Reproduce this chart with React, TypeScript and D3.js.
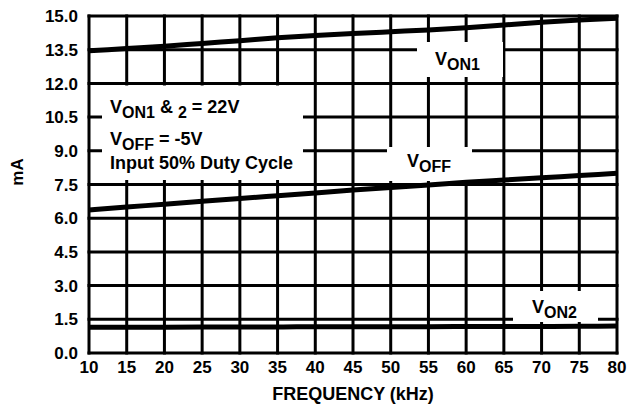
import React, { useRef, useEffect } from 'react';
import * as d3 from 'd3';

// frequency points (kHz) and supply currents (mA)
const freqs = [10, 15, 20, 25, 30, 35, 40, 45, 50, 55, 60, 65, 70, 75, 80];
const von1 = [13.45, 13.55, 13.65, 13.78, 13.9, 14.03, 14.13, 14.22, 14.3, 14.38, 14.48, 14.6, 14.72, 14.82, 14.9];
const voff = [6.37, 6.5, 6.62, 6.75, 6.88, 7.0, 7.12, 7.25, 7.37, 7.48, 7.6, 7.7, 7.8, 7.9, 8.0];
const von2 = [1.15, 1.15, 1.15, 1.16, 1.16, 1.16, 1.17, 1.17, 1.17, 1.17, 1.18, 1.18, 1.18, 1.19, 1.2];

const xTicks = [10, 15, 20, 25, 30, 35, 40, 45, 50, 55, 60, 65, 70, 75, 80];
const yTicks = [0, 1.5, 3, 4.5, 6, 7.5, 9, 10.5, 12, 13.5, 15];

const FONT = '"Liberation Sans", Arial, Helvetica, sans-serif';

const App: React.FC = () => {
  const svgRef = useRef<SVGSVGElement>(null);

  useEffect(() => {
    if (!svgRef.current) return;
    const svg = d3.select(svgRef.current);
    svg.selectAll('*').remove();

    const width = 629;
    const height = 408;
    const margin = { top: 16, right: 12, bottom: 55, left: 89 };

    const x = d3.scaleLinear().domain([10, 80]).range([margin.left, width - margin.right]);
    const y = d3.scaleLinear().domain([0, 15]).range([height - margin.bottom, margin.top]);

    svg.append('rect').attr('width', width).attr('height', height).attr('fill', '#fff');

    // grid (frame included)
    const gw = 3;
    const grid = svg.append('g').attr('stroke', '#000').attr('stroke-width', gw);
    grid.selectAll('.vg')
      .data(xTicks)
      .enter()
      .append('line')
      .attr('x1', d => x(d)).attr('x2', d => x(d))
      .attr('y1', y(0) + gw / 2).attr('y2', y(15) - gw / 2);
    grid.selectAll('.hg')
      .data(yTicks)
      .enter()
      .append('line')
      .attr('y1', d => y(d)).attr('y2', d => y(d))
      .attr('x1', x(10) - gw / 2).attr('x2', x(80) + gw / 2);

    // white boxes behind the annotations
    const boxes = [
      { x0: 102, y0: 85.5, x1: 303, y1: 180 },
      { x0: 417, y0: 42, x1: 503, y1: 77 },
      { x0: 387, y0: 147, x1: 472, y1: 181 },
      { x0: 513, y0: 291, x1: 598, y1: 322 },
    ];
    svg.selectAll('.box')
      .data(boxes)
      .enter()
      .append('rect')
      .attr('x', d => d.x0).attr('y', d => d.y0)
      .attr('width', d => d.x1 - d.x0).attr('height', d => d.y1 - d.y0)
      .attr('fill', '#fff');

    // curves
    const line = d3.line<number>()
      .x((_, i) => x(freqs[i]))
      .y(d => y(d))
      .curve(d3.curveMonotoneX);
    [von1, voff, von2].forEach(series => {
      svg.append('path')
        .attr('d', line(series) || '')
        .attr('fill', 'none')
        .attr('stroke', '#000')
        .attr('stroke-width', 5);
    });

    const txt = svg.append('g')
      .attr('font-family', FONT)
      .attr('font-weight', 'bold')
      .attr('fill', '#000');

    // tick labels
    txt.selectAll('.yl')
      .data(yTicks)
      .enter()
      .append('text')
      .attr('x', 78)
      .attr('y', d => y(d))
      .attr('dy', '0.36em')
      .attr('text-anchor', 'end')
      .attr('font-size', 17)
      .text(d => d.toFixed(1));
    txt.selectAll('.xl')
      .data(xTicks)
      .enter()
      .append('text')
      .attr('x', d => x(d))
      .attr('y', 373)
      .attr('text-anchor', 'middle')
      .attr('font-size', 17)
      .text(d => String(d));

    // axis titles
    txt.append('text')
      .attr('x', (x(10) + x(80)) / 2)
      .attr('y', 400)
      .attr('text-anchor', 'middle')
      .attr('font-size', 18)
      .text('FREQUENCY (kHz)');
    txt.append('text')
      .attr('transform', 'translate(23,172) rotate(-90)')
      .attr('text-anchor', 'middle')
      .attr('font-size', 17)
      .text('mA');

    // text with subscripts: parts of [string, isSub]
    const sub = (px: number, py: number, parts: [string, boolean][], size = 18, subSize = 16) => {
      const t = txt.append('text').attr('x', px).attr('y', py).attr('font-size', size);
      parts.forEach(([s, isSub]) => {
        t.append('tspan')
          .attr('font-size', isSub ? subSize : size)
          .attr('baseline-shift', isSub ? '-5' : '0')
          .text(s);
      });
    };

    sub(110, 113, [['V', false], ['ON1', true], [' & ', false], ['2', true], [' = 22V', false]]);
    sub(110, 145, [['V', false], ['OFF', true], [' = -5V', false]]);
    sub(110, 169, [['Input 50% Duty Cycle', false]]);

    sub(435, 65, [['V', false], ['ON1', true]]);
    sub(407, 167, [['V', false], ['OFF', true]]);
    sub(532, 313, [['V', false], ['ON2', true]]);
  }, []);

  return (
    <div style={{ position: 'absolute', left: 0, top: 0 }}>
      <svg ref={svgRef} width={629} height={408} style={{ display: 'block' }}></svg>
    </div>
  );
};

export default App;
